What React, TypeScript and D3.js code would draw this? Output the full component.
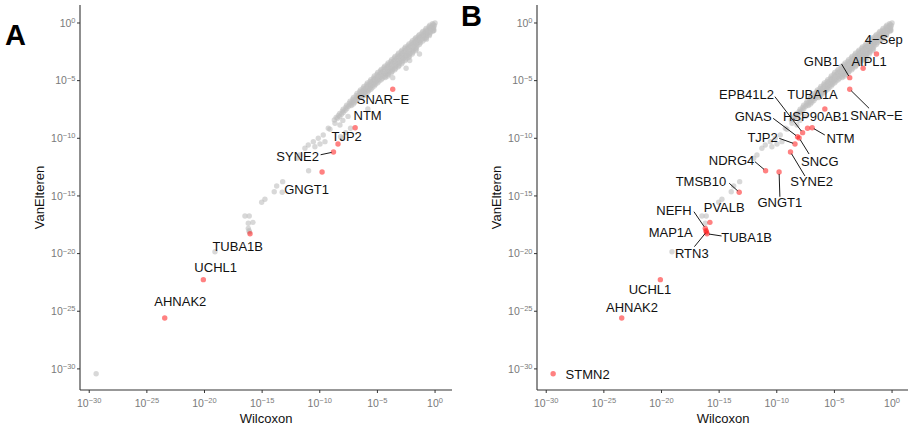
import React from 'react';
import * as d3 from 'd3';

// values are log10 p-values (Wilcoxon on x, VanElteren on y)
const xTicks = [-30, -25, -20, -15, -10, -5, 0];
const yTicks = [-30, -25, -20, -15, -10, -5, 0];

const genes = [
  { name: '4−Sep', x: -1.35, y: -2.69 },
  { name: 'AIPL1', x: -2.51, y: -3.93 },
  { name: 'GNB1', x: -3.67, y: -4.74 },
  { name: 'SNAR−E', x: -3.67, y: -5.75 },
  { name: 'TUBA1A', x: -5.83, y: -7.46 },
  { name: 'NTM', x: -6.93, y: -9.08 },
  { name: 'HSP90AB1', x: -7.33, y: -9.13 },
  { name: 'EPB41L2', x: -7.76, y: -9.51 },
  { name: 'GNAS', x: -8.2, y: -9.86 },
  { name: 'SNCG', x: -8.06, y: -9.97 },
  { name: 'TJP2', x: -8.42, y: -10.49 },
  { name: 'SYNE2', x: -8.81, y: -11.19 },
  { name: 'NDRG4', x: -10.97, y: -12.81 },
  { name: 'GNGT1', x: -9.8, y: -12.92 },
  { name: 'TMSB10', x: -13.26, y: -14.68 },
  { name: 'PVALB', x: -15.8, y: -17.29 },
  { name: 'NEFH', x: -16.2, y: -17.81 },
  { name: 'MAP1A', x: -16.14, y: -18.01 },
  { name: 'RTN3', x: -16.1, y: -18.12 },
  { name: 'TUBA1B', x: -16.05, y: -18.28 },
  { name: 'UCHL1', x: -20.1, y: -22.26 },
  { name: 'AHNAK2', x: -23.45, y: -25.58 },
  { name: 'STMN2', x: -29.4, y: -30.42 },
];

// the bulk of unlabelled genes
const cloud: [number, number][] = [
  [0, 0], [-0.06, -0.22], [-0.12, -0.45], [-0.22, -0.06], [-0.28, -0.31], [-0.36, -0.57], [-0.42, -0.83],
  [-0.1, -0.65], [-0.2, -0.72], [-0.5, -1.1], [-0.75, -1.4],
  [-0.53, -0.33], [-0.61, -0.58], [-0.66, -0.9], [-0.72, -1.12],
  [-0.84, -0.62], [-0.92, -0.87], [-0.97, -1.13], [-0.91, -1.37],
  [-1.14, -0.86], [-1.21, -1.16], [-1.18, -1.44], [-1.27, -1.71],
  [-1.44, -1.13], [-1.52, -1.41], [-1.49, -1.72], [-1.56, -1.99], [-1.62, -2.27],
  [-1.74, -1.38], [-1.81, -1.69], [-1.79, -1.97], [-1.86, -2.29], [-1.92, -2.53],
  [-2.04, -1.68], [-2.11, -1.99], [-2.08, -2.31], [-2.16, -2.62], [-2.21, -2.87],
  [-2.34, -1.96], [-2.42, -2.24], [-2.39, -2.57], [-2.46, -2.84], [-2.52, -3.13],
  [-2.64, -2.21], [-2.71, -2.52], [-2.69, -2.81], [-2.77, -3.09], [-2.82, -3.39],
  [-2.94, -2.48], [-3.02, -2.79], [-2.98, -3.12], [-3.06, -3.41], [-3.11, -3.69],
  [-3.24, -2.77], [-3.31, -3.06], [-3.28, -3.36], [-3.36, -3.64], [-3.42, -3.93],
  [-3.54, -3.04], [-3.61, -3.34], [-3.58, -3.66], [-3.66, -3.96], [-3.71, -4.19],
  [-3.84, -3.33], [-3.91, -3.61], [-3.88, -3.93], [-3.96, -4.21], [-4.02, -4.46],
  [-4.14, -3.61], [-4.21, -3.89], [-4.18, -4.21], [-4.26, -4.49], [-4.31, -4.73],
  [-4.44, -3.87], [-4.52, -4.19], [-4.49, -4.51], [-4.56, -4.79],
  [-4.74, -4.16], [-4.81, -4.44], [-4.79, -4.76], [-4.86, -5.04],
  [-5.04, -4.44], [-5.12, -4.76], [-5.09, -5.06], [-5.16, -5.31],
  [-5.34, -4.76], [-5.41, -5.04], [-5.38, -5.36], [-5.46, -5.61],
  [-5.64, -5.06], [-5.71, -5.34], [-5.69, -5.66], [-5.77, -5.89],
  [-5.94, -5.36], [-6.01, -5.64], [-6.04, -5.96], [-6.07, -6.16],
  [-6.24, -5.66], [-6.31, -5.94], [-6.29, -6.26], [-6.36, -6.46],
  [-6.54, -5.96], [-6.61, -6.26], [-6.66, -6.54],
  [-6.84, -6.29], [-6.91, -6.61], [-6.96, -6.87],
  [-7.14, -6.61], [-7.21, -6.89], [-7.26, -7.16],
  [-7.44, -6.96], [-7.52, -7.24],
  [-7.74, -7.31], [-7.81, -7.59],
  [-8.04, -7.64], [-8.12, -7.91],
  [-8.38, -8.02], [-8.46, -8.26],
  [-8.74, -8.41],
  // second pass over the dense band
  [-0.15, -0.14], [-0.16, -0.38], [-0.14, -0.6],
  [-0.45, -0.2], [-0.46, -0.44], [-0.44, -0.7], [-0.47, -0.98],
  [-0.78, -0.47], [-0.77, -0.74], [-0.79, -1.0], [-0.78, -1.27],
  [-1.06, -0.74], [-1.05, -1.01], [-1.07, -1.29], [-1.06, -1.56],
  [-1.36, -1.02], [-1.35, -1.28], [-1.37, -1.57], [-1.36, -1.86],
  [-1.66, -1.27], [-1.65, -1.55], [-1.67, -1.84], [-1.66, -2.14], [-1.68, -2.4],
  [-1.96, -1.54], [-1.95, -1.83], [-1.97, -2.14], [-1.96, -2.44], [-1.98, -2.7],
  [-2.26, -1.82], [-2.25, -2.11], [-2.27, -2.43], [-2.26, -2.73], [-2.28, -3.0],
  [-2.57, -2.08], [-2.56, -2.38], [-2.58, -2.69], [-2.57, -2.97], [-2.59, -3.26],
  [-2.87, -2.35], [-2.86, -2.65], [-2.88, -2.95], [-2.87, -3.25], [-2.89, -3.53],
  [-3.17, -2.63], [-3.16, -2.92], [-3.18, -3.24], [-3.17, -3.53], [-3.19, -3.8],
  [-3.47, -2.9], [-3.46, -3.2], [-3.48, -3.5], [-3.47, -3.8], [-3.49, -4.06],
  [-3.77, -3.18], [-3.76, -3.47], [-3.78, -3.79], [-3.77, -4.08], [-3.79, -4.32],
  [-4.07, -3.46], [-4.06, -3.76], [-4.08, -4.07], [-4.07, -4.35], [-4.09, -4.6],
  [-4.37, -3.74], [-4.36, -4.04], [-4.38, -4.35], [-4.37, -4.64],
  [-4.67, -4.02], [-4.66, -4.31], [-4.68, -4.63], [-4.67, -4.92],
  [-4.97, -4.3], [-4.96, -4.6], [-4.98, -4.91], [-4.97, -5.18],
  [-5.27, -4.6], [-5.26, -4.9], [-5.28, -5.21], [-5.27, -5.46],
  [-5.57, -4.91], [-5.56, -5.2], [-5.58, -5.51], [-5.57, -5.75],
  [-5.87, -5.21], [-5.86, -5.5], [-5.88, -5.81], [-5.87, -6.03],
  [-6.17, -5.51], [-6.16, -5.8], [-6.18, -6.1], [-6.17, -6.31],
  [-6.47, -5.81], [-6.46, -6.1], [-6.48, -6.4],
  [-6.77, -6.12], [-6.76, -6.44], [-6.78, -6.72],
  [-7.07, -6.45], [-7.06, -6.75], [-7.08, -7.02],
  [-7.37, -6.78], [-7.36, -7.1],
  [-7.67, -7.14], [-7.66, -7.44],
  [-7.97, -7.48], [-7.96, -7.76],
  [-8.27, -7.84], [-8.26, -8.12],
  [-8.58, -8.2],
  [-2.2, -3.25],
  // lower tail
  [-7.55, -8.1], [-8.0, -8.45], [-8.25, -8.85], [-8.68, -8.7], [-9.12, -9.22], [-9.26, -9.13],
  [-9.7, -9.71], [-9.55, -10.29], [-9.98, -10.49], [-10.13, -10.0], [-10.42, -10.73],
  [-10.56, -10.29], [-11.0, -10.58], [-11.29, -10.87], [-11.72, -11.45], [-12.0, -11.73],
  [-13.22, -13.76], [-13.74, -14.14], [-13.95, -14.63], [-14.76, -15.29], [-15.04, -15.55],
  [-16.49, -16.74], [-16.12, -16.74], [-16.2, -17.37], [-19.09, -19.84],
];

const highlightA = ['SNAR−E', 'NTM', 'TJP2', 'SYNE2', 'GNGT1', 'TUBA1B', 'UCHL1', 'AHNAK2'];
const highlightB = genes.map(g => g.name);

// label centres (data units) and segment starts (px offset from label centre)
const labelsA: Record<string, [number, number]> = {
  'SNAR−E': [-4.52, -6.59], NTM: [-5.85, -7.98], TJP2: [-7.67, -9.86], SYNE2: [-11.92, -11.54],
  GNGT1: [-11.14, -14.42], TUBA1B: [-17.12, -19.37], UCHL1: [-19.03, -21.22], AHNAK2: [-22.1, -24.14],
};
const segA: Record<string, [number, number]> = { SYNE2: [23, -1.3] };

const labelsB: Record<string, [number, number]> = {
  '4−Sep': [-0.72, -1.39], AIPL1: [-1.99, -3.35], GNB1: [-6.12, -3.35], TUBA1A: [-6.9, -6.16],
  'SNAR−E': [-1.35, -7.98], EPB41L2: [-12.62, -6.18], HSP90AB1: [-6.61, -8.13], GNAS: [-12.05, -8.13],
  NTM: [-4.47, -10.0], TJP2: [-11.23, -9.95], SNCG: [-6.27, -11.97], NDRG4: [-13.92, -11.88],
  SYNE2: [-6.98, -13.76], TMSB10: [-16.58, -13.76], GNGT1: [-9.73, -15.59], NEFH: [-18.92, -16.22],
  PVALB: [-14.56, -16.02], MAP1A: [-19.2, -18.19], TUBA1B: [-12.62, -18.62], RTN3: [-17.37, -19.97],
  UCHL1: [-21.0, -23.07], AHNAK2: [-22.56, -24.69], STMN2: [-26.41, -30.44],
};
const segB: Record<string, [number, number]> = {
  GNB1: [20, 2.3], 'SNAR−E': [-7.4, -6.7], EPB41L2: [28.3, 2.4], GNAS: [20, 1.6], NTM: [-15.7, -3.3],
  TJP2: [16.6, 0.6], SNCG: [-10.7, -7], NDRG4: [23.3, 1.7], SYNE2: [-6.7, -5.7], TMSB10: [28.3, 1.6],
  GNGT1: [0, -6], NEFH: [20, 1.7], TUBA1B: [-25, -1.7], RTN3: [2.6, -6.6],
};

const FONT = "'Liberation Sans', Arial, Helvetica, sans-serif";
const PW = 372;
const PH = 385;

const sup = (v: number) => (v < 0 ? '−' + Math.abs(v) : String(v));

function Panel({ ox, oy, highlight, labels, segs }: {
  ox: number; oy: number; highlight: string[];
  labels: Record<string, [number, number]>; segs: Record<string, [number, number]>;
}) {
  const x = d3.scaleLinear().domain([-30.8, 1.47]).range([0, PW]);
  const y = d3.scaleLinear().domain([-31.83, 1.56]).range([PH, 0]);
  const hi = new Set(highlight);
  const grey = [...cloud.map(([a, b]) => ({ x: a, y: b })), ...genes.filter(g => !hi.has(g.name))];
  const red = genes.filter(g => hi.has(g.name));

  return (
    <g transform={`translate(${ox},${oy})`}>
      {grey.map((d, i) => (
        <circle key={'g' + i} cx={x(d.x)} cy={y(d.y)} r={2.7} fill="#bebebe" fillOpacity={0.6} />
      ))}
      {red.map(d => (
        <circle key={'r' + d.name} cx={x(d.x)} cy={y(d.y)} r={2.7} fill="#ff1a1a" fillOpacity={0.55} />
      ))}
      {red.filter(d => segs[d.name]).map(d => {
        const [lx, ly] = labels[d.name];
        const [dx, dy] = segs[d.name];
        const sx = x(lx) + dx, sy = y(ly) + dy;
        const px = x(d.x), py = y(d.y);
        const len = Math.hypot(px - sx, py - sy);
        const ex = px - ((px - sx) / len) * 2, ey = py - ((py - sy) / len) * 2;
        return <line key={'s' + d.name} x1={sx} y1={sy} x2={ex} y2={ey} stroke="#000" strokeWidth={0.9} />;
      })}
      {red.map(d => {
        const [lx, ly] = labels[d.name];
        return (
          <text key={'t' + d.name} x={x(lx)} y={y(ly) + 4.7} textAnchor="middle" fontSize={13}
            fontFamily={FONT} fill="#111">{d.name}</text>
        );
      })}
      <line x1={0} x2={PW} y1={PH} y2={PH} stroke="#333" strokeWidth={1.1} />
      <line x1={0} x2={0} y1={0} y2={PH} stroke="#333" strokeWidth={1.1} />
      {xTicks.map(t => (
        <g key={'xt' + t}>
          <line x1={x(t)} x2={x(t)} y1={PH} y2={PH + 3} stroke="#333" strokeWidth={1} />
          <text x={x(t)} y={PH + 16.5} textAnchor="middle" fontFamily={FONT} fill="#7a7a7a" fontSize={10.5}>
            10<tspan dy={-3.8} fontSize={7.5}>{sup(t)}</tspan>
          </text>
        </g>
      ))}
      {yTicks.map(t => (
        <g key={'yt' + t}>
          <line x1={-3} x2={0} y1={y(t)} y2={y(t)} stroke="#333" strokeWidth={1} />
          <text x={-4.5} y={y(t) + 3.8} textAnchor="end" fontFamily={FONT} fill="#7a7a7a" fontSize={10.5}>
            10<tspan dy={-3.8} fontSize={7.5}>{sup(t)}</tspan>
          </text>
        </g>
      ))}
      <text x={PW / 2} y={PH + 33} textAnchor="middle" fontFamily={FONT} fontSize={13} fill="#111">Wilcoxon</text>
      <text transform={`translate(-36,${PH / 2}) rotate(-90)`} textAnchor="middle" fontFamily={FONT}
        fontSize={13} fill="#111">VanElteren</text>
    </g>
  );
}

export default function App() {
  return (
    <svg width={908} height={430} style={{ position: 'absolute', left: 0, top: 0, background: '#fff' }}>
      <Panel ox={80} oy={5} highlight={highlightA} labels={labelsA} segs={segA} />
      <Panel ox={537} oy={5} highlight={highlightB} labels={labelsB} segs={segB} />
      <text x={5} y={45} fontFamily={FONT} fontWeight="bold" fontSize={29} fill="#000">A</text>
      <text x={461} y={26} fontFamily={FONT} fontWeight="bold" fontSize={29} fill="#000">B</text>
    </svg>
  );
}
